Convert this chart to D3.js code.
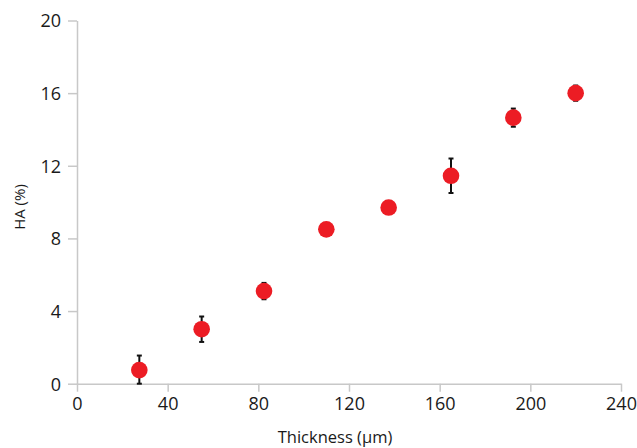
<!DOCTYPE html>
<html>
<head>
<meta charset="utf-8">
<script src="https://cdn.jsdelivr.net/npm/d3@7"></script>
<style>
  body { margin: 0; background: #fff; }
  svg text { font-family: "Open Sans", sans-serif; fill: #1a1a1a; }
</style>
</head>
<body>
<div id="container"></div>
<script>
// thickness (µm), HA (%), error (+/-)
const thickness = [27.5, 55, 82.5, 110, 137.5, 165, 192.5, 220];
const ha = [0.75, 3.0, 5.1, 8.5, 9.7, 11.45, 14.65, 16.0];
const err = [0.8, 0.7, 0.45, 0.2, 0.2, 0.95, 0.5, 0.42];
const xTicks = [0, 40, 80, 120, 160, 200, 240];
const yTicks = [0, 4, 8, 12, 16, 20];

const width = 637;
const height = 448;

const xScale = d3.scaleLinear().domain([0, 240]).range([77, 621]);
const yScale = d3.scaleLinear().domain([0, 20]).range([383.7, 20.5]);

const data = thickness.map((t, i) => ({ t: t, v: ha[i], e: err[i] }));

const svg = d3.select("#container")
  .append("svg")
  .attr("width", width)
  .attr("height", height);

const xAxis = d3.axisBottom(xScale).tickValues(xTicks).tickSize(8).tickPadding(6).tickSizeOuter(0);
const yAxis = d3.axisLeft(yScale).tickValues(yTicks).tickSize(9).tickPadding(7).tickSizeOuter(0);

const gx = svg.append("g")
  .attr("transform", `translate(0,${yScale(0)})`)
  .call(xAxis);

const gy = svg.append("g")
  .attr("transform", `translate(${xScale(0)},0)`)
  .call(yAxis);

[gx, gy].forEach(g => {
  g.select(".domain").attr("stroke", "#c8c8c8").attr("stroke-width", 1.5);
  g.selectAll(".tick line").attr("stroke", "#c8c8c8").attr("stroke-width", 1.5);
  g.selectAll(".tick text").style("font-size", "18px").attr("fill", "#1a1a1a");
});
gy.selectAll(".tick text").attr("dy", "0.35em");

// error bars
const eb = svg.append("g").attr("stroke", "#111").attr("stroke-width", 2);
eb.selectAll("line.v")
  .data(data)
  .enter()
  .append("line")
  .attr("x1", d => xScale(d.t))
  .attr("x2", d => xScale(d.t))
  .attr("y1", d => yScale(Math.max(0, d.v - d.e)))
  .attr("y2", d => yScale(d.v + d.e));
eb.selectAll("line.top")
  .data(data)
  .enter()
  .append("line")
  .attr("x1", d => xScale(d.t) - 2.5)
  .attr("x2", d => xScale(d.t) + 2.5)
  .attr("y1", d => yScale(d.v + d.e))
  .attr("y2", d => yScale(d.v + d.e));
eb.selectAll("line.bot")
  .data(data)
  .enter()
  .append("line")
  .attr("x1", d => xScale(d.t) - 2.5)
  .attr("x2", d => xScale(d.t) + 2.5)
  .attr("y1", d => yScale(Math.max(0, d.v - d.e)))
  .attr("y2", d => yScale(Math.max(0, d.v - d.e)));

svg.selectAll("circle")
  .data(data)
  .enter()
  .append("circle")
  .attr("cx", d => xScale(d.t))
  .attr("cy", d => yScale(d.v))
  .attr("r", 8.3)
  .attr("fill", "#ec1c24");

svg.append("text")
  .attr("x", 335)
  .attr("y", 443)
  .attr("text-anchor", "middle")
  .style("font-size", "16.5px")
  .text("Thickness (µm)");

svg.append("text")
  .attr("transform", "translate(25,207) rotate(-90)")
  .attr("text-anchor", "middle")
  .style("font-size", "15px")
  .text("HA (%)");
</script>
</body>
</html>
